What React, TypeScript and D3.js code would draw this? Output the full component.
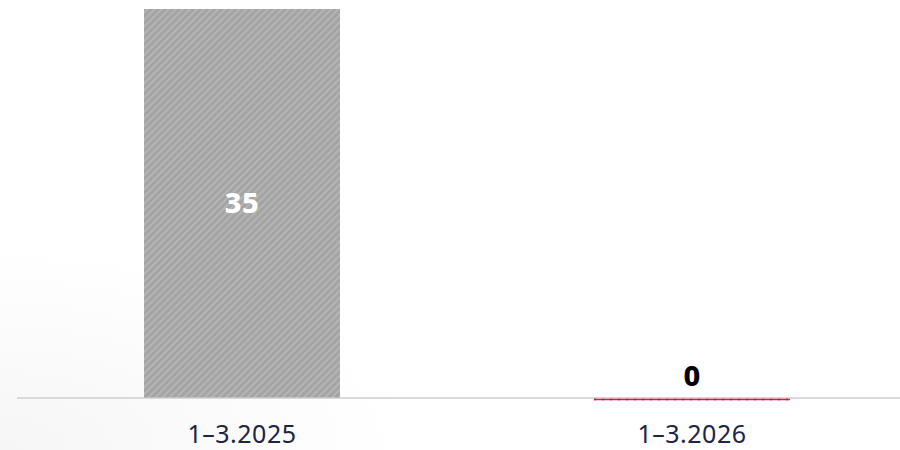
import React from "react";
import * as d3 from "d3";

const categories = ["1–3.2025", "1–3.2026"];
const values = [35, 0];

const W = 900;
const H = 450;

export default function App() {
  const x = d3.scaleBand<string>().domain(categories).range([17, 917]).paddingInner(0.5645).paddingOuter(0.5645 / 2);
  const y = d3.scaleLinear().domain([0, 35]).range([397.5, 9]);
  const bw = x.bandwidth();
  const font = "'Noto Sans', Lato, sans-serif";
  return (
    <div style={{ position: "fixed", left: 0, top: 0, width: W, height: H, background: "#fff" }}>
      <svg width={W} height={H} style={{ display: "block" }}>
        <defs>
          <pattern id="hatch" patternUnits="userSpaceOnUse" width="5" height="5" patternTransform="rotate(45)">
            <rect width="5" height="5" fill="#a4a4a4" />
            <rect width="1.6" height="5" fill="#b9b9b9" />
          </pattern>
          <radialGradient id="bg" cx="0" cy="1" r="0.45">
            <stop offset="0" stopColor="#f6f6f6" />
            <stop offset="1" stopColor="#ffffff" />
          </radialGradient>
        </defs>
        <rect width={W} height={H} fill="url(#bg)" />
        <line x1={17} x2={W} y1={398} y2={398} stroke="#d9d9d9" strokeWidth={2} />
        {categories.map((c, i) => {
          const v = values[i];
          const x0 = x(c)!;
          const cx = x0 + bw / 2;
          return (
            <g key={c}>
              {v > 0 ? (
                <>
                  <rect x={x0} y={y(v)} width={bw} height={y(0) - y(v)} fill="url(#hatch)" />
                  <text x={cx} y={213} textAnchor="middle" fill="#fff" fontFamily={font} fontWeight={800} fontSize={29} letterSpacing={0.5}>
                    {v}
                  </text>
                </>
              ) : (
                <>
                  <line x1={x0} x2={x0 + bw} y1={399.5} y2={399.5} stroke="#e8174a" strokeWidth={1.5} />
                  <line x1={x0} x2={x0 + bw} y1={399.5} y2={399.5} stroke="#c8103e" strokeWidth={1.5} strokeDasharray="2 6" />
                  <text x={cx} y={386} textAnchor="middle" fill="#000" fontFamily={font} fontWeight={800} fontSize={29}>
                    {v}
                  </text>
                </>
              )}
              <text x={cx} y={443} textAnchor="middle" fill="#1c2545" fontFamily={font} fontSize={25} letterSpacing={0.5}>
                {c}
              </text>
            </g>
          );
        })}
      </svg>
    </div>
  );
}
